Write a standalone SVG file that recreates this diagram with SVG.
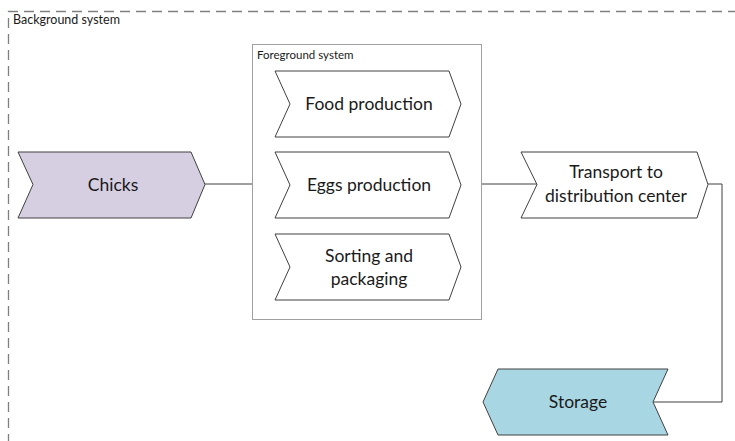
<svg xmlns="http://www.w3.org/2000/svg" width="735" height="441" viewBox="0 0 735 441">
<style>
.bg{fill:none;stroke:#7f7f7f;stroke-width:1.3;stroke-dasharray:10 6}
.fg{fill:none;stroke:#404040;stroke-width:1;stroke-dasharray:1 1}
.chev{fill:#ffffff;stroke:#404040;stroke-width:1}
.conn{fill:none;stroke:#404040;stroke-width:1}
.lbl{font-family:Lato,"Liberation Sans",sans-serif;font-size:17.5px;fill:#1a1a1a;text-anchor:middle}
.small{font-family:Lato,"Liberation Sans",sans-serif;fill:#1a1a1a}
</style>
<rect width="735" height="441" fill="#ffffff"/>
<g id="background-system">
<path class="bg" d="M8.5,460 V11.5 H760"/>
<text class="small" x="13" y="24" font-size="12.5">Background system</text>
</g>
<g id="foreground-system">
<rect class="fg" x="252.5" y="44.5" width="229" height="275"/>
<text class="small" x="257" y="59" font-size="11.5">Foreground system</text>
</g>
<g id="connectors">
<path class="conn" d="M205,184 H252"/>
<path class="conn" d="M482,184 H537"/>
<path class="conn" d="M708,184 H722 V402 H653"/>
</g>
<g id="chicks">
<polygon class="chev" style="fill:#d6cfe2" points="18,152 191,152 205,184.5 191,218 18,218 33,184.5"/>
<text class="lbl" x="113" y="191">Chicks</text>
</g>
<g id="food-production">
<polygon class="chev" points="275,71 449,71 461,104 449,137 275,137 290,104"/>
<text class="lbl" x="369" y="110">Food production</text>
</g>
<g id="eggs-production">
<polygon class="chev" points="275,152 449,152 461,185 449,218 275,218 290,185"/>
<text class="lbl" x="369" y="191">Eggs production</text>
</g>
<g id="sorting-packaging">
<polygon class="chev" points="275,234 449,234 461,267 449,300 275,300 290,267"/>
<text class="lbl" x="369" y="262">Sorting and</text>
<text class="lbl" x="369" y="285">packaging</text>
</g>
<g id="transport">
<polygon class="chev" points="521,152 697,152 708,184.5 697,218 521,218 537,184.5"/>
<text class="lbl" x="616" y="178">Transport to</text>
<text class="lbl" x="616" y="202">distribution center</text>
</g>
<g id="storage">
<polygon class="chev" style="fill:#a8d6e3" points="498,369 668,369 653,402 668,435 498,435 483,402"/>
<text class="lbl" x="578" y="408">Storage</text>
</g>
</svg>
